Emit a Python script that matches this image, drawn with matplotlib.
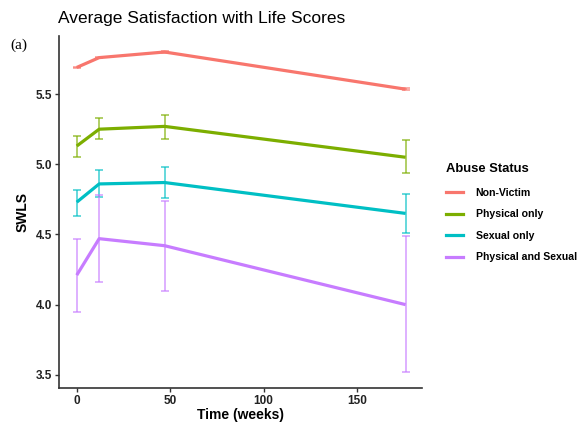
import numpy as np
import matplotlib.pyplot as plt
from matplotlib.lines import Line2D

plt.rcParams['font.family'] = ['Liberation Sans', 'DejaVu Sans']

weeks = [0, 12, 47, 176]
groups = ['Non-Victim', 'Physical only', 'Sexual only', 'Physical and Sexual']
colors = ['#F8766D', '#7CAE00', '#00BFC4', '#C77CFF']

means = [
    [5.69, 5.76, 5.80, 5.535],
    [5.13, 5.25, 5.27, 5.05],
    [4.73, 4.86, 4.87, 4.65],
    [4.21, 4.47, 4.42, 4.00],
]
lower = [
    [5.685, 5.755, 5.795, 5.53],
    [5.05, 5.18, 5.18, 4.94],
    [4.63, 4.77, 4.76, 4.51],
    [3.95, 4.16, 4.10, 3.52],
]
upper = [
    [5.695, 5.765, 5.805, 5.54],
    [5.20, 5.33, 5.35, 5.17],
    [4.82, 4.96, 4.98, 4.79],
    [4.47, 4.78, 4.74, 4.49],
]

fig = plt.figure(figsize=(5.82, 4.23), dpi=100)
ax = fig.add_axes([59 / 582, 35 / 423, 363 / 582, 352 / 423])

for g, c, m, lo, hi in zip(groups, colors, means, lower, upper):
    m = np.array(m)
    err = [m - np.array(lo), np.array(hi) - m]
    ax.errorbar(weeks, m, yerr=err, fmt='none', ecolor=c, alpha=0.7,
                elinewidth=1.2, capsize=3, capthick=1.2)
    ax.plot(weeks, m, color=c, lw=2.3, solid_capstyle='butt')

ax.set_xlim(-9.5, 184.8)
ax.set_ylim(3.406, 5.914)
ax.set_xticks([0, 50, 100, 150])
ax.set_yticks([3.5, 4.0, 4.5, 5.0, 5.5])
ax.set_yticklabels(['3.5', '4.0', '4.5', '5.0', '5.5'])
for s in ['top', 'right']:
    ax.spines[s].set_visible(False)
for s in ['left', 'bottom']:
    ax.spines[s].set_color('#333333')
    ax.spines[s].set_linewidth(1.2)
ax.tick_params(length=3, width=1, color='#333333', labelsize=8.5, pad=2)
for t in ax.get_xticklabels() + ax.get_yticklabels():
    t.set_fontweight('bold')
    t.set_color('#222222')

ax.set_xlabel('Time (weeks)', fontsize=10, fontweight='bold', labelpad=1)
ax.set_ylabel('SWLS', fontsize=10, fontweight='bold', labelpad=4)

fig.text(58 / 582, 1 - 19 / 423, 'Average Satisfaction with Life Scores',
         fontsize=12.5, va='center', ha='left')
fig.text(10 / 582, 1 - 45 / 423, '(a)', family=['Liberation Serif'],
         fontsize=11, va='center', ha='left')

handles = [Line2D([0], [0], color=c, lw=2.3) for c in colors]
leg = fig.legend(handles, groups, loc='upper left',
                 bbox_to_anchor=(444 / 582, 1 - 161 / 423), frameon=False,
                 title='Abuse Status', handlelength=1.6, handletextpad=1.2,
                 labelspacing=1.1, borderpad=0.2, borderaxespad=0,
                 prop={'size': 7.6, 'weight': 'bold'},
                 title_fontproperties={'size': 9.4, 'weight': 'bold'})
leg._legend_box.align = 'left'
leg._legend_box.sep = 9

fig.savefig('out.png', dpi=100)
